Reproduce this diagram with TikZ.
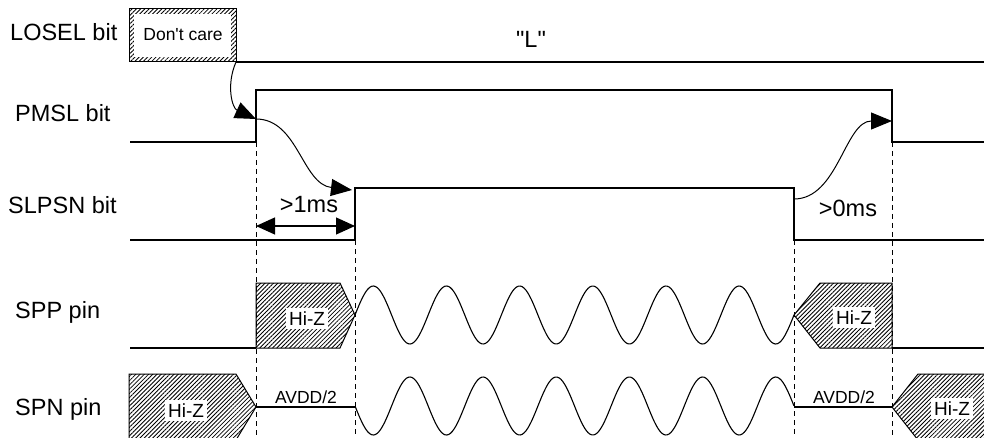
\documentclass[tikz,border=0pt]{standalone}
\usepackage{fontspec}
\setmainfont{Liberation Sans}
\usetikzlibrary{arrows.meta,patterns.meta}

\tikzset{
  sigline/.style={line width=1.1pt},
  hatchbox/.style={draw, line width=1pt, pattern={Lines[angle=45,distance=3pt,line width=0.85pt]}},
  guide/.style={line width=0.9pt, dash pattern=on 5pt off 4pt},
  signame/.style={anchor=base west, inner sep=0pt, font=\fontsize{23.5}{28}\selectfont},
  bigtxt/.style={anchor=base, inner sep=0pt, font=\fontsize{23.5}{28}\selectfont},
  smalltxt/.style={anchor=base, inner sep=0pt, font=\fontsize{17.5}{21}\selectfont},
  hiz/.style={anchor=base, fill=white, inner sep=3.5pt, font=\fontsize{19}{23}\selectfont},
  cause/.style={line width=1pt, -{Triangle[length=21pt,width=17pt]}},
  span/.style={line width=1.1pt, {Triangle[length=19pt,width=17pt]}-{Triangle[length=19pt,width=17pt]}}
}

\begin{document}
\begin{tikzpicture}[x=1pt, y=-1pt]
    \clip (0,0) rectangle (984,438);
    % Signal names
    \node[signame] (losel) at (10,41) {LOSEL bit};
    \node[signame] (pmsl) at (15,122) {PMSL bit};
    \node[signame] (slpsn) at (8,214) {SLPSN bit};
    \node[signame] (spp) at (15,318) {SPP pin};
    \node[signame] (spn) at (15,415) {SPN pin};

    % Timing guides
    \draw[guide] (256,142) -- (256,438);
    \draw[guide] (355,240) -- (355,438);
    \draw[guide] (794,240) -- (794,438);
    \draw[guide] (892,142) -- (892,438);

    % LOSEL bit
    \draw[hatchbox] (129,9) rectangle (236,62);
    \fill[white] (134,14) rectangle (231,57);
    \node[smalltxt] (dontcare) at (183,41) {Don\textquotesingle t care};
    \coordinate (loselEdge) at (236,62);
    \draw[sigline] (loselEdge) -- (984,62);
    \node[bigtxt] (lowlvl) at (531,48) {\textquotedbl L\textquotedbl};

    % PMSL bit
    \draw[sigline] (130,142) -- (256,142) -- (256,90) -- (892,90) -- (892,142) -- (984,142);
    \coordinate (pmslRise) at (256,119);
    \coordinate (pmslFall) at (892,121);

    % SLPSN bit
    \draw[sigline] (130,240) -- (355,240) -- (355,188) -- (794,188) -- (794,240) -- (984,240);
    \coordinate (slpsnRise) at (352,190);
    \coordinate (slpsnFall) at (794,199);

    % Cause arrows
    \draw[cause] (loselEdge) .. controls (226,85) and (232,108) .. (pmslRise);
    \draw[cause] (pmslRise) .. controls (298,119) and (302,184) .. (slpsnRise);
    \draw[cause] (slpsnFall) .. controls (838,199) and (845,121) .. (pmslFall);

    % Delays
    \coordinate (spanL) at (256,226);
    \coordinate (spanR) at (355,226);
    \draw[span] (spanL) -- (spanR);
    \node[bigtxt] (delayon) at (309,213) {>1ms};
    \node[bigtxt] (delayoff) at (848,217) {>0ms};

    % SPP pin
    \draw[sigline] (130,348) -- (256,348);
    \draw[hatchbox] (256,283) -- (340,283) -- (355,315) -- (340,348) -- (256,348) -- cycle;
    \draw[sigline] plot[domain=0:6, samples=240, smooth] ({355+\x*73.17}, {315-29*sin(\x*360)});
    \draw[hatchbox] (794,315) -- (820,283) -- (892,283) -- (892,348) -- (820,348) -- cycle;
    \draw[sigline] (892,348) -- (984,348);
    \node[hiz] (sppz1) at (307,325) {Hi-Z};
    \node[hiz] (sppz2) at (854,324) {Hi-Z};

    % SPN pin
    \draw[hatchbox] (129,374) -- (236,374) -- (256,407) -- (236,440) -- (129,440) -- cycle;
    \draw[sigline] (256,407) -- (355,407);
    \draw[sigline] plot[domain=0:6, samples=240, smooth] ({355+\x*73.17}, {406+29*sin(\x*360)});
    \draw[sigline] (794,407) -- (892,407);
    \draw[hatchbox] (892,407) -- (918,374) -- (992,374) -- (992,440) -- (918,440) -- cycle;
    \node[smalltxt] (avdd1) at (306,403) {AVDD/2};
    \node[smalltxt] (avdd2) at (844,403) {AVDD/2};
    \node[hiz] (spnz1) at (186,417) {Hi-Z};
    \node[hiz] (spnz2) at (952,415) {Hi-Z};
  \end{tikzpicture}
\end{document}
